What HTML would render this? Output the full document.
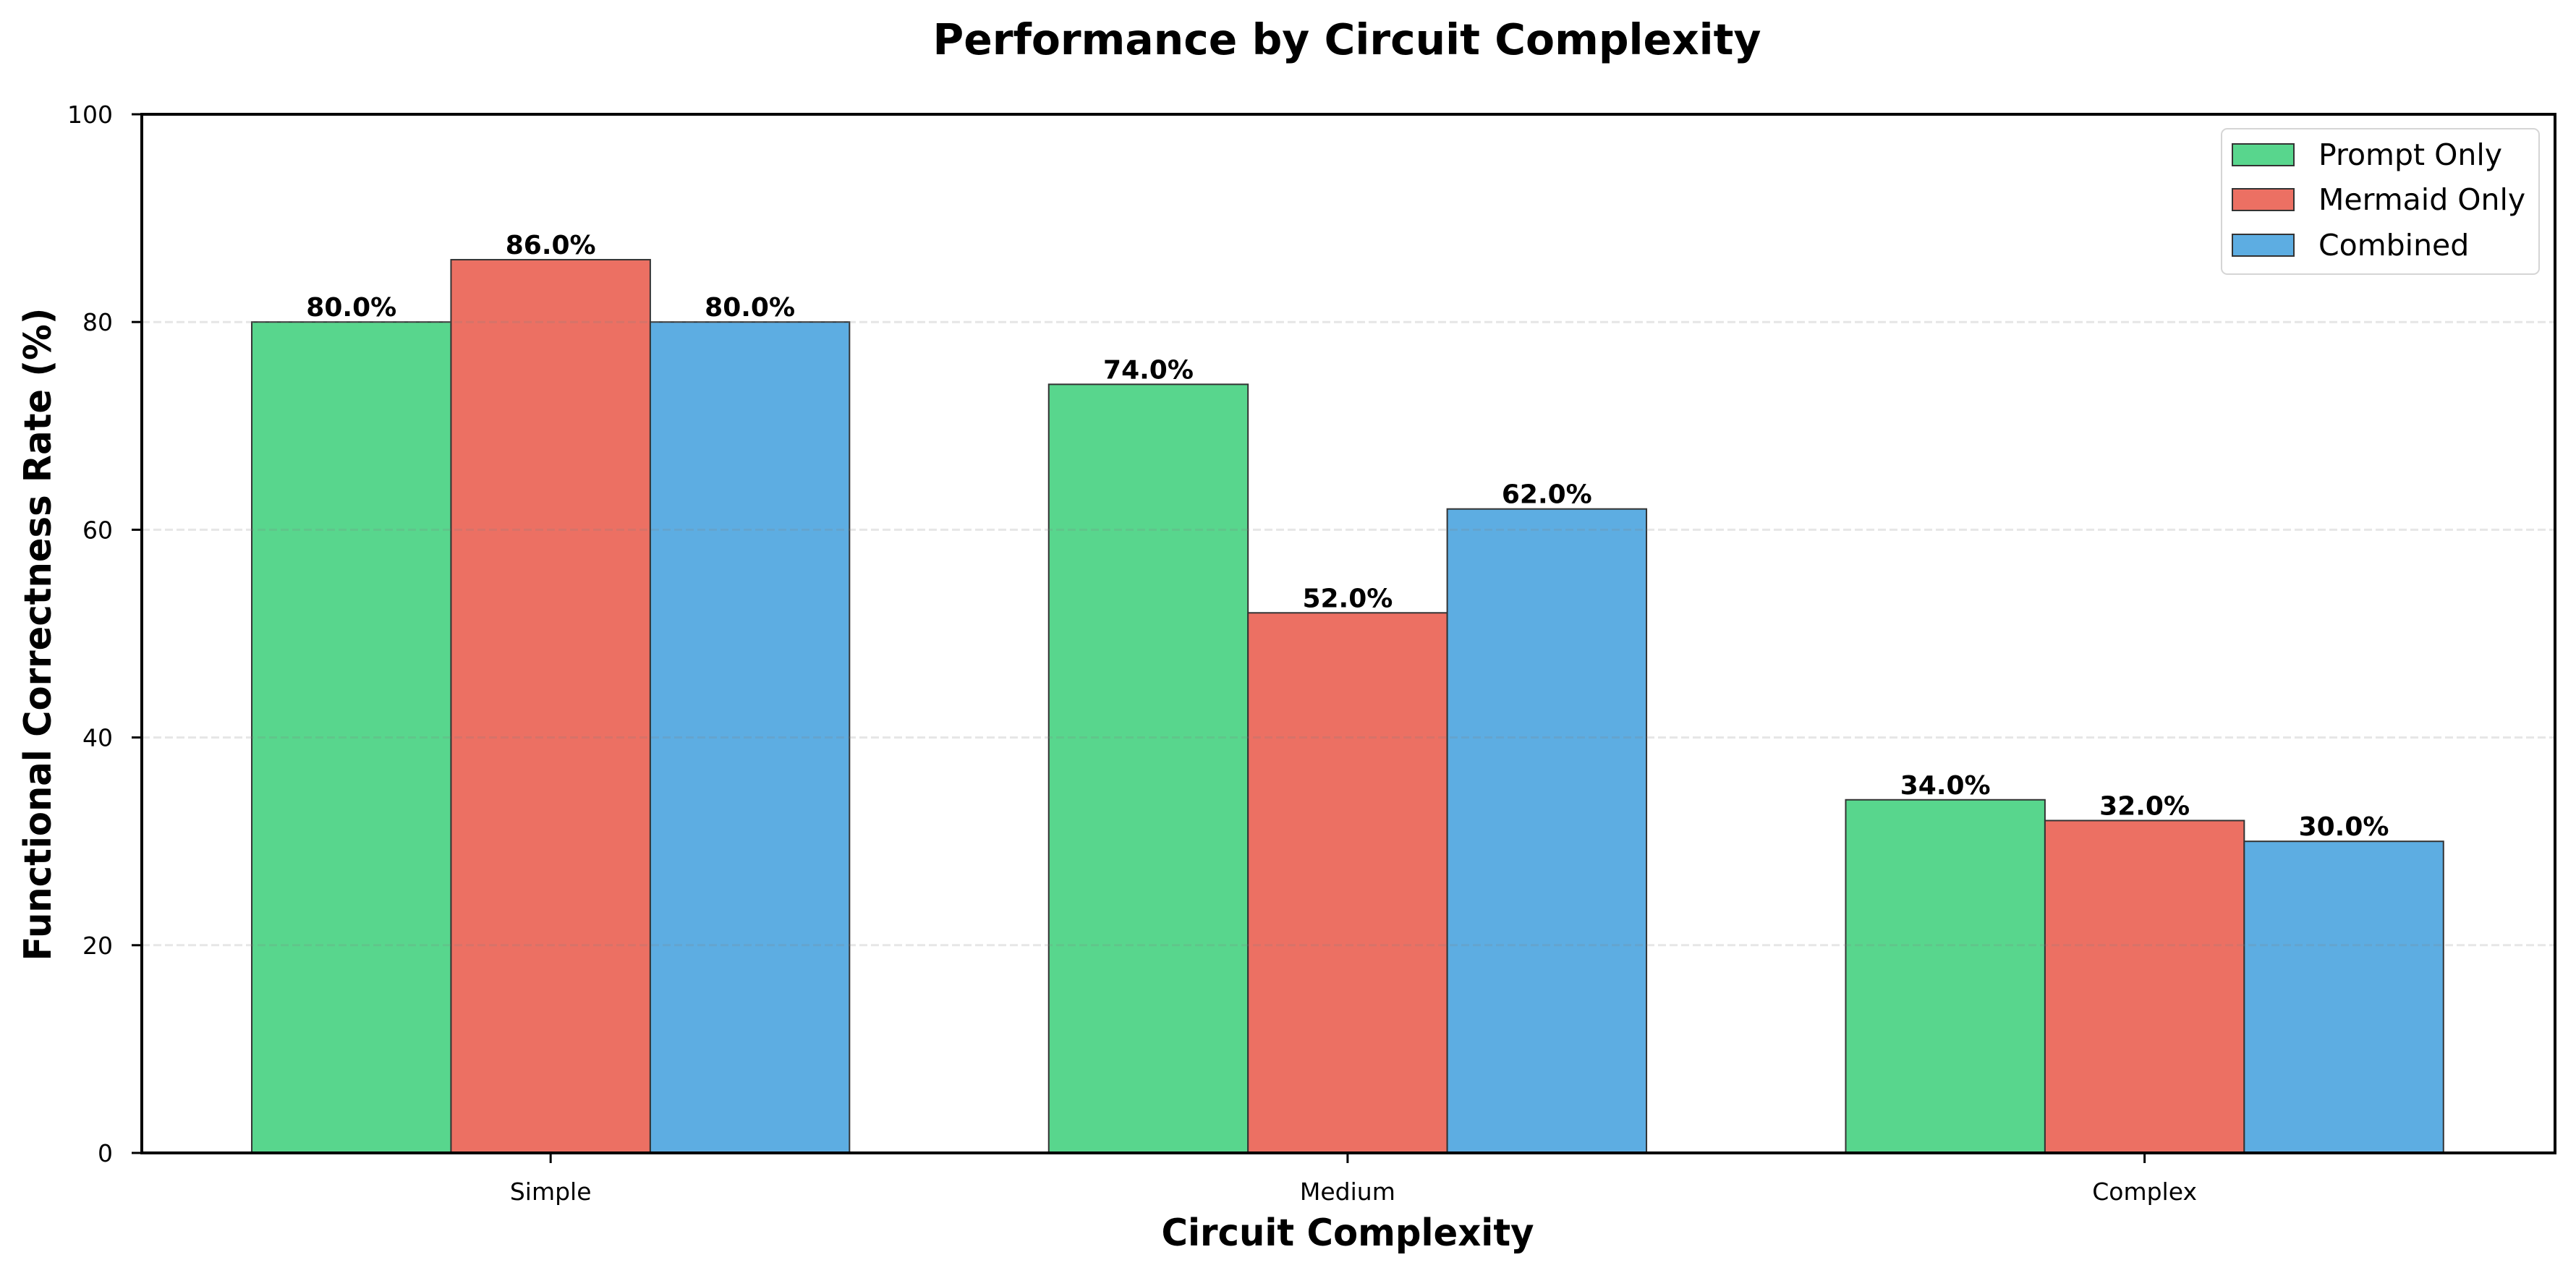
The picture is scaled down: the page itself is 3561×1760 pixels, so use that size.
<!DOCTYPE html>
<html><head><meta charset="utf-8"><style>
html,body{margin:0;padding:0;background:#fff;}
svg{display:block;font-family:"DejaVu Sans","Liberation Sans",sans-serif;}
</style></head><body>
<svg id="chart" width="3561" height="1760" viewBox="0 0 3561 1760" xmlns="http://www.w3.org/2000/svg">
<rect width="3561" height="1760" fill="#fff"/>
<text x="1862" y="75" text-anchor="middle" font-size="59" font-weight="bold" textLength="1145" lengthAdjust="spacingAndGlyphs">Performance by Circuit Complexity</text>
<g id="grid"></g>
<g id="bars"></g>
<g id="gridtop"></g>
<g id="labels"></g>
<g id="axes"></g>
<text x="1863" y="1722" text-anchor="middle" font-size="52" font-weight="bold" textLength="515" lengthAdjust="spacingAndGlyphs">Circuit Complexity</text>
<text transform="translate(70,877) rotate(-90)" text-anchor="middle" font-size="52" font-weight="bold" textLength="903" lengthAdjust="spacingAndGlyphs">Functional Correctness Rate (%)</text>
<g>
<rect x="3071" y="178" width="439" height="201" rx="8" fill="#fff" fill-opacity="0.8" stroke="#d5d5d5" stroke-width="2"/>
<rect x="3086" y="199" width="85" height="30" fill="#58d68d" stroke="#333" stroke-width="2"/>
<text x="3205" y="228" font-size="41">Prompt Only</text>
<rect x="3086" y="261" width="85" height="30" fill="#ec7063" stroke="#333" stroke-width="2"/>
<text x="3205" y="290" font-size="41">Mermaid Only</text>
<rect x="3086" y="324" width="85" height="30" fill="#5dade2" stroke="#333" stroke-width="2"/>
<text x="3205" y="353" font-size="41">Combined</text>
</g>
</svg>
<script>
const categories = ["Simple", "Medium", "Complex"];
const seriesNames = ["Prompt Only", "Mermaid Only", "Combined"];
const promptOnly = [80, 74, 34];
const mermaidOnly = [86, 52, 32];
const combined = [80, 62, 30];
const yTicks = [0, 20, 40, 60, 80, 100];

const NS = "http://www.w3.org/2000/svg";
const series = [promptOnly, mermaidOnly, combined];
const colors = ["#58d68d", "#ec7063", "#5dade2"];
const L = 196, R = 3532, T = 158, B = 1594;
const xMin = -0.513, xMax = 2.515;
function xs(v){ return L + (v - xMin) / (xMax - xMin) * (R - L); }
function ys(v){ return B - v / 100 * (B - T); }
const barW = 0.25;
function mk(tag, attrs, parent){ const e = document.createElementNS(NS, tag); for (const k in attrs) e.setAttribute(k, attrs[k]); parent.appendChild(e); return e; }

const grid = document.getElementById('gridtop');
yTicks.forEach(t => {
  if (t === 0 || t === 100) return;
  const l = mk('line', {x1: L, x2: R, y1: ys(t), y2: ys(t), stroke: '#808080', 'stroke-opacity': 0.2, 'stroke-width': 3, 'stroke-dasharray': '11 5'}, grid);
  
  
});

const bars = document.getElementById('bars');
const labels = document.getElementById('labels');
series.forEach((vals, s) => {
  vals.forEach((v, i) => {
    const cx = i + (s - 1) * barW;
    const x0 = xs(cx - barW / 2), x1 = xs(cx + barW / 2);
    const r = mk('rect', {x: x0, y: ys(v), width: x1 - x0, height: ys(0) - ys(v), fill: colors[s], stroke: '#333', 'stroke-width': 2}, bars);
    
    
    const t = mk('text', {x: xs(cx), y: ys(v) - 8, 'text-anchor': 'middle', 'font-size': 36, 'font-weight': 'bold'}, labels);
    t.textContent = v.toFixed(1) + '%';
    
    
  });
});

const axes = document.getElementById('axes');
const frame = mk('rect', {x: L, y: T, width: R - L, height: B - T, fill: 'none', stroke: '#000', 'stroke-width': 4}, axes);


yTicks.forEach(t => {
  const tk = mk('line', {x1: L - 14, x2: L, y1: ys(t), y2: ys(t), stroke: '#000', 'stroke-width': 3}, axes);
  
  
  const lb = mk('text', {x: L - 40, y: ys(t) + 12, 'text-anchor': 'end', 'font-size': 33}, axes);
  lb.textContent = t;
  
  
});
categories.forEach((c, i) => {
  const tk = mk('line', {x1: xs(i), x2: xs(i), y1: B, y2: B + 14, stroke: '#000', 'stroke-width': 3}, axes);
  
  
  const lb = mk('text', {x: xs(i), y: 1659, 'text-anchor': 'middle', 'font-size': 33}, axes);
  lb.textContent = c;
  
  
});
</script>
</body></html>
